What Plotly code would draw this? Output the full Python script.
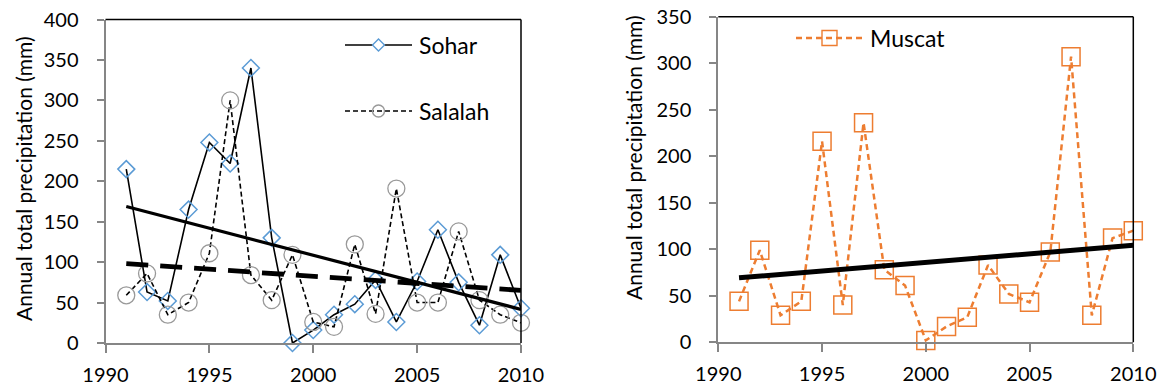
import numpy as np
import plotly.graph_objects as go

# Annual total precipitation (mm), 1991-2010
years = list(range(1991, 2011))
sohar = [215, 63, 52, 165, 248, 222, 340, 130, 0, 16,
         35, 48, 78, 26, 76, 140, 75, 22, 109, 43]
salalah = [59, 86, 35, 50, 111, 300, 84, 53, 109, 26,
           20, 122, 36, 191, 50, 50, 138, 53, 35, 25]
muscat = [44, 99, 29, 44, 216, 40, 236, 78, 61, 2,
          17, 27, 83, 52, 43, 97, 307, 29, 112, 120]

x_ticks = [1990, 1995, 2000, 2005, 2010]
y_ticks_left = list(range(0, 401, 50))
y_ticks_right = list(range(0, 351, 50))

FONT = "Lato"
AXIS_GRAY = "#868686"
BLUE = "#5B9BD5"
GRAY = "#999999"
ORANGE = "#ED7D31"

W, H = 1164, 389


def px_x(p):
    return p / W


def px_y(p):
    return 1 - p / H


def linear_trend(xs, ys):
    slope, intercept = np.polyfit(xs, ys, 1)
    xe = [xs[0], xs[-1]]
    return xe, [slope * v + intercept for v in xe]


fig = go.Figure()

fig.add_trace(go.Scatter(
    x=years, y=sohar, name="Sohar", mode="lines+markers",
    line=dict(color="black", width=1.6),
    marker=dict(symbol="diamond-open", size=13, color=BLUE, line=dict(color=BLUE, width=1.5)),
    cliponaxis=False, xaxis="x", yaxis="y", showlegend=False))
fig.add_trace(go.Scatter(
    x=years, y=salalah, name="Salalah", mode="lines+markers",
    line=dict(color="black", width=1.6, dash="5px,3px"),
    marker=dict(symbol="circle-open", size=17, color=GRAY, line=dict(color=GRAY, width=1.3)),
    cliponaxis=False, xaxis="x", yaxis="y", showlegend=False))

tx, ty = linear_trend(years, sohar)
fig.add_trace(go.Scatter(x=tx, y=ty, mode="lines", showlegend=False,
                         line=dict(color="black", width=3.2), xaxis="x", yaxis="y"))
tx, ty = linear_trend(years, salalah)
fig.add_trace(go.Scatter(x=tx, y=ty, mode="lines", showlegend=False,
                         line=dict(color="black", width=4.8, dash="22px,12px"),
                         xaxis="x", yaxis="y"))

fig.add_trace(go.Scatter(
    x=years, y=muscat, name="Muscat", mode="lines+markers",
    line=dict(color=ORANGE, width=2.5, dash="6px,4px"),
    marker=dict(symbol="square-open", size=18, color=ORANGE, line=dict(color=ORANGE, width=1.5)),
    cliponaxis=False, xaxis="x2", yaxis="y2", showlegend=False))
tx, ty = linear_trend(years, muscat)
fig.add_trace(go.Scatter(x=tx, y=ty, mode="lines", showlegend=False,
                         line=dict(color="black", width=5), xaxis="x2", yaxis="y2"))

tick_font = dict(family=FONT, size=20, color="black")
xcommon = dict(range=[1990, 2010], tickvals=x_ticks, ticks="outside", ticklen=8,
               tickcolor=AXIS_GRAY, tickwidth=1.5, showline=True, linecolor=AXIS_GRAY,
               linewidth=2, showgrid=False, zeroline=False, tickfont=tick_font,
               ticklabelstandoff=5, automargin=False)
ycommon = dict(ticks="outside", ticklen=7, tickcolor=AXIS_GRAY, tickwidth=1.5,
               showline=True, linecolor=AXIS_GRAY, linewidth=2, showgrid=False,
               zeroline=False, tickfont=tick_font, ticklabelstandoff=14, automargin=False)

shapes = [
    # black plot-area border on the top and right sides
    dict(type="line", xref="x domain", yref="y domain", x0=0, x1=1, y0=1, y1=1,
         line=dict(color="black", width=1.5)),
    dict(type="line", xref="x domain", yref="y domain", x0=1, x1=1, y0=0, y1=1,
         line=dict(color="black", width=1.5)),
    dict(type="line", xref="x2 domain", yref="y2 domain", x0=0, x1=1, y0=1, y1=1,
         line=dict(color="black", width=1.5)),
    dict(type="line", xref="x2 domain", yref="y2 domain", x0=1, x1=1, y0=0, y1=1,
         line=dict(color="black", width=1.5)),
]

annotations = [
    dict(text="Annual total precipitation (mm)", textangle=-90, showarrow=False,
         xref="paper", yref="paper", x=px_x(23), y=px_y(179),
         xanchor="center", yanchor="middle",
         font=dict(family=FONT, size=21, color="black")),
    dict(text="Annual total precipitation (mm)", textangle=-90, showarrow=False,
         xref="paper", yref="paper", x=px_x(633), y=px_y(158),
         xanchor="center", yanchor="middle",
         font=dict(family=FONT, size=21, color="black")),
]


def legend_key(label, x_left, y_mid, line_style, symbol, color, half):
    """Legend entry: a 67 px line sample with a marker in its middle, then the label."""
    x_right = x_left + 67
    xc = (x_left + x_right) / 2
    shapes.append(dict(type="line", xref="paper", yref="paper", layer="above",
                       x0=px_x(x_left), x1=px_x(x_right), y0=px_y(y_mid), y1=px_y(y_mid),
                       line=line_style))
    edge = dict(color=color, width=1.4)
    if symbol == "diamond":
        path = "M{},{} L{},{} L{},{} L{},{} Z".format(
            px_x(xc - half), px_y(y_mid), px_x(xc), px_y(y_mid - half),
            px_x(xc + half), px_y(y_mid), px_x(xc), px_y(y_mid + half))
        shapes.append(dict(type="path", xref="paper", yref="paper", layer="above",
                           path=path, fillcolor="white", line=edge))
    else:
        shapes.append(dict(type="circle" if symbol == "circle" else "rect",
                           xref="paper", yref="paper", layer="above",
                           x0=px_x(xc - half), x1=px_x(xc + half),
                           y0=px_y(y_mid + half), y1=px_y(y_mid - half),
                           fillcolor="rgba(0,0,0,0)", line=edge))
    annotations.append(dict(text=label, showarrow=False, xref="paper", yref="paper",
                            x=px_x(x_right + 5), y=px_y(y_mid), xanchor="left",
                            yanchor="middle",
                            font=dict(family=FONT, size=23, color="black")))


legend_key("Sohar", 345, 45, dict(color="black", width=1.6), "diamond", BLUE, 6)
legend_key("Salalah", 345, 111, dict(color="black", width=1.6, dash="5px,3px"),
           "circle", GRAY, 6)
legend_key("Muscat", 796, 38, dict(color=ORANGE, width=2.5, dash="6px,4px"),
           "square", ORANGE, 7.5)

fig.update_layout(
    width=W, height=H, margin=dict(l=0, r=0, t=0, b=0),
    paper_bgcolor="white", plot_bgcolor="white", showlegend=False,
    xaxis=dict(domain=[px_x(105.5), px_x(521)], anchor="y", **xcommon),
    yaxis=dict(domain=[px_y(343), px_y(19.5)], anchor="x", range=[0, 400],
               tickvals=y_ticks_left, **ycommon),
    xaxis2=dict(domain=[px_x(718.3), px_x(1133.3)], anchor="y2", **xcommon),
    yaxis2=dict(domain=[px_y(342.3), px_y(16.7)], anchor="x2", range=[0, 350],
                tickvals=y_ticks_right, **ycommon),
    shapes=shapes,
    annotations=annotations,
)

fig.write_html("out.html")
